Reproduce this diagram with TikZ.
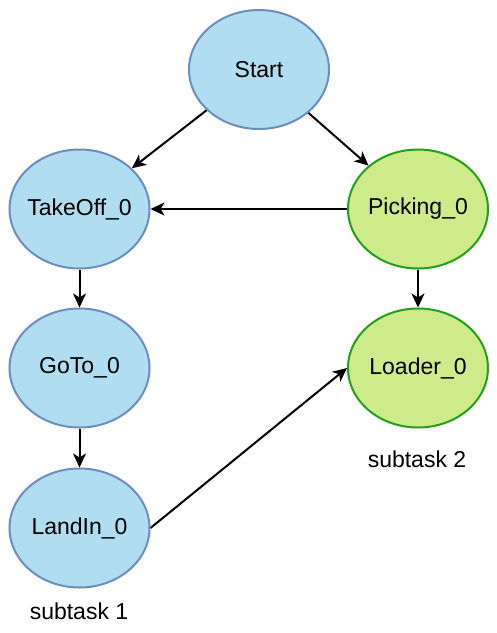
\documentclass[tikz,border=0pt]{standalone}
\usepackage{fontspec}
\setmainfont{Liberation Sans}
\usetikzlibrary{shapes.geometric,arrows.meta}
\definecolor{bluefill}{HTML}{B1DDF0}
\definecolor{bluestroke}{HTML}{6C8EBF}
\definecolor{greenfill}{HTML}{CDEB8B}
\definecolor{greenstroke}{HTML}{22A016}
\newcommand{\lbl}[1]{\makebox[0pt]{#1}}
\tikzset{
  statenode/.style={ellipse, minimum width=140pt, minimum height=119pt, inner sep=0pt, line width=2pt, font=\fontsize{23}{27}\selectfont},
  bluenode/.style={statenode, draw=bluestroke, fill=bluefill},
  greennode/.style={statenode, draw=greenstroke, fill=greenfill},
  conn/.style={line width=2pt, -{Stealth[length=14pt,width=13pt,inset=4pt]}},
  caption/.style={font=\fontsize{23}{27}\selectfont}
}
\begin{document}
\begin{tikzpicture}[x=1pt,y=-1pt]
\useasboundingbox (0,0) rectangle (497,633);
\node[bluenode] (start) at (259,69.5) {\lbl{Start}};
\node[bluenode] (takeoff) at (79.5,209) {\lbl{TakeOff\_0}};
\node[greennode] (picking) at (418,209) {\lbl{Picking\_0}};
\node[bluenode] (goto) at (79.5,368) {\lbl{GoTo\_0}};
\node[greennode] (loader) at (418,368) {\lbl{Loader\_0}};
\node[bluenode] (landin) at (79.5,528) {\lbl{LandIn\_0}};
\node[caption] (cap2) at (417,459) {subtask 2};
\node[caption] (cap1) at (79,611) {subtask 1};
\draw[conn] (start) -- (takeoff);
\draw[conn] (start) -- (picking);
\draw[conn] (picking) -- (takeoff);
\draw[conn] (takeoff) -- (goto);
\draw[conn] (goto) -- (landin);
\draw[conn] (picking) -- (loader);
\draw[conn] (landin.east) -- (loader.west);
\end{tikzpicture}
\end{document}
